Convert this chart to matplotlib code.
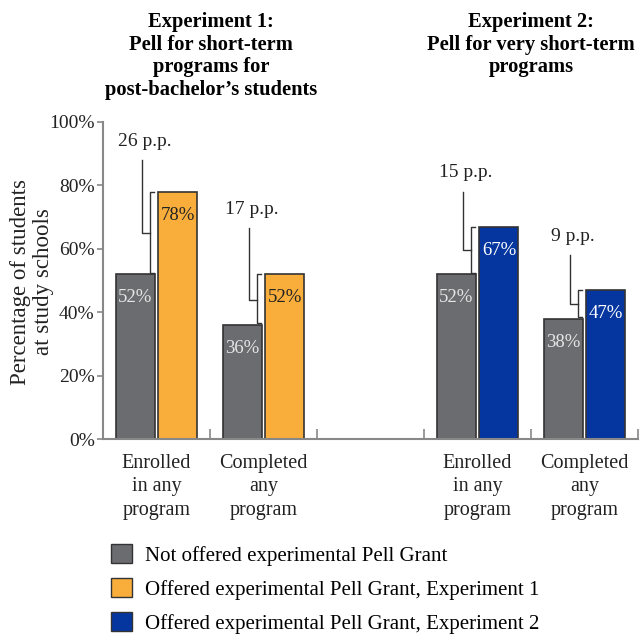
import matplotlib.pyplot as plt
from matplotlib.patches import Patch

plt.rcParams['font.family'] = ['Liberation Serif', 'DejaVu Serif']

# data
categories = ["Enrolled\nin any\nprogram", "Completed\nany\nprogram", "",
              "Enrolled\nin any\nprogram", "Completed\nany\nprogram"]
slots = [0, 1, 3, 4]
control = [52, 36, 52, 38]
treated = [78, 52, 67, 47]
diff_labels = ["26 p.p.", "17 p.p.", "15 p.p.", "9 p.p."]
stem_tops = [88, 66.5, 78, 58]
yticks = [0, 20, 40, 60, 80, 100]

gray = '#6b6c70'
orange = '#f9ae3c'
blue = '#0536a0'
treat_colors = [orange, orange, blue, blue]
treat_text = ['#222222', '#222222', 'white', 'white']

fig = plt.figure(figsize=(6.42, 6.35), dpi=100)
ax = fig.add_axes([103/642, 1-439/635, 535/642, 317/635])

w = 0.365
off = 0.2
for i, s in enumerate(slots):
    ax.bar(s - off, control[i], width=w, color=gray, edgecolor='#333333', linewidth=1.2)
    ax.bar(s + off, treated[i], width=w, color=treat_colors[i], edgecolor='#333333', linewidth=1.2)
    ax.text(s - off, control[i] - 7.5, f"{control[i]}%", ha='center', va='center',
            color='#e6e6e6', fontsize=13.5)
    ax.text(s + off, treated[i] - 7.5, f"{treated[i]}%", ha='center', va='center',
            color=treat_text[i], fontsize=13.5)

    # difference bracket
    lo, hi = control[i], treated[i]
    mid = (lo + hi) / 2
    bx = s - 0.065
    sx = s - 0.14
    lc = '#333333'
    ax.plot([bx + 0.045, bx, bx, bx + 0.045], [hi, hi, lo + 0.5, lo + 0.5], color=lc, lw=1)
    ax.plot([bx, sx, sx], [mid, mid, stem_tops[i]], color=lc, lw=1)
    ax.text(sx + 0.03, stem_tops[i] + 6, diff_labels[i], ha='center', va='center',
            fontsize=14, color='#222222')

ax.set_xlim(-0.5, 4.5)
ax.set_ylim(0, 100)
ax.set_yticks(yticks)
ax.set_yticklabels([f"{t}%" for t in yticks], fontsize=14, color='#222222')
ax.set_xticks(range(5))
ax.set_xticklabels(categories, fontsize=14.5, color='#222222', linespacing=1.3)
ax.set_xticks([0.5, 1.5, 2.5, 3.5, 4.5], minor=True)
ax.tick_params(axis='x', which='major', length=0, pad=11)
ax.tick_params(axis='x', which='minor', direction='in', length=7, color='#888888', width=1.2)
ax.tick_params(axis='y', length=4, color='#888888', width=1.2, pad=2)

for sp in ['top', 'right']:
    ax.spines[sp].set_visible(False)
for sp in ['left', 'bottom']:
    ax.spines[sp].set_color('#888888')
    ax.spines[sp].set_linewidth(1.5)

fig.text(32/642, 1-282/635, "Percentage of students\nat study schools", rotation=90,
         ha='center', va='center', fontsize=16.5, color='#222222', linespacing=1.15)

fig.text(211/642, 1-12/635, "Experiment 1:\nPell for short-term\nprograms for\npost-bachelor\u2019s students",
         ha='center', va='top', fontsize=14.8, fontweight='bold', linespacing=1.18)
fig.text(531/642, 1-12/635, "Experiment 2:\nPell for very short-term\nprograms",
         ha='center', va='top', fontsize=14.8, fontweight='bold', linespacing=1.18)

handles = [Patch(facecolor=gray, edgecolor='#333333'),
           Patch(facecolor=orange, edgecolor='#333333'),
           Patch(facecolor=blue, edgecolor='#333333')]
labels = ["Not offered experimental Pell Grant",
          "Offered experimental Pell Grant, Experiment 1",
          "Offered experimental Pell Grant, Experiment 2"]
fig.legend(handles, labels, loc='upper left', bbox_to_anchor=(103/642, 1-536/635),
           frameon=False, fontsize=15, handlelength=1.0, handleheight=1.0,
           labelspacing=0.6, handletextpad=0.6, borderaxespad=0)

fig.savefig('out.png', dpi=100)
